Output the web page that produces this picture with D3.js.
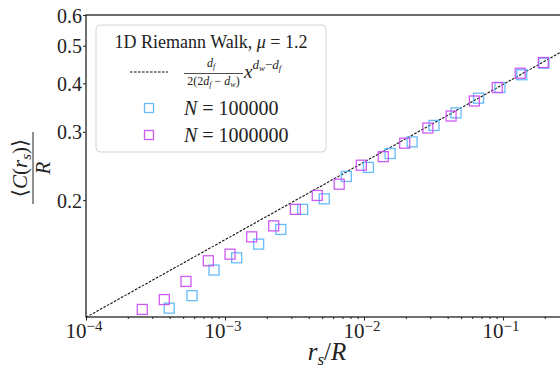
<!DOCTYPE html>
<html>
<head>
<meta charset="utf-8">
<title>Riemann walk</title>
<script src="https://cdnjs.cloudflare.com/ajax/libs/d3/7.8.5/d3.min.js"></script>
<style>
  body { margin: 0; background: #fff; }
</style>
</head>
<body>
<div id="chart"></div>
<script>
// data
const smallX = [3.97e-4, 5.79e-4, 8.34e-4, 1.213e-3, 1.746e-3, 2.52e-3, 3.62e-3, 5.18e-3, 7.46e-3,
                1.076e-2, 1.541e-2, 2.22e-2, 3.19e-2, 4.59e-2, 6.67e-2, 9.51e-2, 0.1365, 0.197];
const smallY = [0.1054, 0.1135, 0.1321, 0.1421, 0.1541, 0.1681, 0.1894, 0.2016, 0.2302,
                0.2429, 0.2638, 0.2826, 0.3116, 0.3356, 0.3663, 0.3902, 0.4209, 0.4507];
const bigX = [2.54e-4, 3.66e-4, 5.24e-4, 7.59e-4, 1.087e-3, 1.556e-3, 2.24e-3, 3.21e-3, 4.61e-3,
              6.63e-3, 9.57e-3, 1.377e-2, 1.963e-2, 2.88e-2, 4.23e-2, 6.22e-2, 9.10e-2, 0.133, 0.195];
const bigY = [0.1046, 0.1109, 0.1235, 0.1396, 0.1452, 0.1609, 0.1717, 0.1894, 0.2057,
              0.2199, 0.2461, 0.2589, 0.2804, 0.3068, 0.3295, 0.3602, 0.3902, 0.4247, 0.4526];
// dashed reference line, end points
const fitX = [1e-4, 0.3];
const fitY = [0.0998, 0.495];

const xMajor = [1e-4, 1e-3, 1e-2, 1e-1];
const xMajorExp = ["\u22124", "\u22123", "\u22122", "\u22121"];
const yTicks = [0.2, 0.3, 0.4, 0.5, 0.6];
const yTickLabels = ["0.2", "0.3", "0.4", "0.5", "0.6"];

const FONT = "'Liberation Serif', 'DejaVu Serif', 'Times New Roman', serif";
const W = 560, H = 370;
const m = {left: 86, top: 15, right: 566, bottom: 317};

const svg = d3.select("#chart").append("svg")
    .attr("width", W).attr("height", H)
    .style("display", "block");

const x = d3.scaleLog().domain([1e-4, 0.284]).range([m.left, m.right]);
const y = d3.scaleLog().domain([0.1, 0.6]).range([m.bottom, m.top]);

svg.append("defs").append("clipPath").attr("id", "clip")
  .append("rect").attr("x", m.left).attr("y", m.top)
  .attr("width", m.right - m.left).attr("height", m.bottom - m.top);

const plot = svg.append("g").attr("clip-path", "url(#clip)");

// dashed line
const line = d3.line().x(d => x(d[0])).y(d => y(d[1]));
plot.append("path")
    .datum(d3.zip(fitX, fitY))
    .attr("d", line)
    .attr("fill", "none")
    .attr("stroke", "#111")
    .attr("stroke-width", 1.1)
    .attr("stroke-dasharray", "2.6,1.4");

const blue = "#55b4f8", mag = "#c94af2";
const sq = 10;

function squares(xs, ys, col) {
  plot.append("g").selectAll("rect")
    .data(d3.zip(xs, ys))
    .enter().append("rect")
    .attr("x", d => x(d[0]) - sq / 2)
    .attr("y", d => y(d[1]) - sq / 2)
    .attr("width", sq).attr("height", sq)
    .attr("fill", "none")
    .attr("stroke", col)
    .attr("stroke-width", 1.3)
    .attr("opacity", 0.9);
}
squares(smallX, smallY, blue);
squares(bigX, bigY, mag);

// x axis
const minors = [];
[1e-4, 1e-3, 1e-2, 1e-1].forEach(b => { for (let k = 2; k < 10; k++) if (b * k < 0.284) minors.push(b * k); });

const xAxis = svg.append("g").attr("transform", "translate(0," + m.bottom + ")");
xAxis.call(d3.axisBottom(x).tickValues(xMajor).tickSize(3.5).tickFormat(""));
xAxis.append("g").call(d3.axisBottom(x).tickValues(minors).tickSize(2).tickFormat(""));
xAxis.selectAll(".domain").remove();
xAxis.selectAll("line").attr("stroke", "#222");

xAxis.selectAll(".xl")
  .data(xMajor)
  .enter().append("text")
  .attr("class", "xl")
  .attr("x", d => x(d) - 2)
  .attr("y", 21)
  .attr("text-anchor", "middle")
  .attr("font-size", 21)
  .each(function(d, i) {
    const t = d3.select(this);
    t.append("tspan").text("10");
    t.append("tspan").attr("font-size", 15).attr("dy", -7).text(xMajorExp[i]);
  });

// y axis
const yAxis = svg.append("g").attr("transform", "translate(" + m.left + ",0)");
yAxis.call(d3.axisLeft(y).tickValues(yTicks).tickSize(3).tickFormat((d, i) => yTickLabels[i]));
yAxis.selectAll(".domain").remove();
yAxis.selectAll("line").attr("stroke", "#222");
yAxis.selectAll("text")
  .attr("font-size", 20)
  .attr("x", -4)
  .attr("dy", "0.35em");

// spines
const sp = svg.append("g").attr("stroke", "#222").attr("stroke-width", 1.3).attr("fill", "none");
sp.append("rect").attr("x", m.left).attr("y", m.top).attr("width", m.right - m.left).attr("height", m.bottom - m.top);

// axis titles
const xl = svg.append("text")
  .attr("x", 327).attr("y", 360)
  .attr("text-anchor", "middle")
  .attr("font-size", 25);
xl.append("tspan").attr("font-style", "italic").text("r");
xl.append("tspan").attr("font-style", "italic").attr("font-size", 17).attr("dy", 5).text("s");
xl.append("tspan").attr("dy", -5).text("/");
xl.append("tspan").attr("font-style", "italic").text("R");

const yl = svg.append("g").attr("transform", "translate(33,168) rotate(-90)");
const num = yl.append("text").attr("x", 0).attr("y", -6).attr("text-anchor", "middle").attr("font-size", 21);
num.append("tspan").text("\u27E8");
num.append("tspan").attr("font-style", "italic").text("C");
num.append("tspan").text("(");
num.append("tspan").attr("font-style", "italic").text("r");
num.append("tspan").attr("font-style", "italic").attr("font-size", 15).attr("dy", 4).text("s");
num.append("tspan").attr("dy", -4).text(")\u27E9");
yl.append("line").attr("x1", -36).attr("x2", 36).attr("y1", 0).attr("y2", 0)
  .attr("stroke", "#222").attr("stroke-width", 1);
yl.append("text").attr("x", 0).attr("y", 17).attr("text-anchor", "middle")
  .attr("font-size", 21).attr("font-style", "italic").text("R");

// legend
const lg = svg.append("g");
lg.append("rect")
  .attr("x", 96).attr("y", 25).attr("width", 230).attr("height", 127)
  .attr("rx", 4)
  .attr("fill", "#fff").attr("fill-opacity", 0.85)
  .attr("stroke", "#d4d4d4").attr("stroke-width", 1);

const title = lg.append("text").attr("x", 211).attr("y", 48).attr("text-anchor", "middle").attr("font-size", 18);
title.append("tspan").text("1D Riemann Walk, ");
title.append("tspan").attr("font-style", "italic").text("\u03BC");
title.append("tspan").text(" = 1.2");

lg.append("line").attr("x1", 130).attr("x2", 168).attr("y1", 72).attr("y2", 72)
  .attr("stroke", "#111").attr("stroke-width", 1.1).attr("stroke-dasharray", "2.6,1.4");

const nm = lg.append("text").attr("x", 211).attr("y", 67).attr("text-anchor", "middle").attr("font-size", 12);
nm.append("tspan").attr("font-style", "italic").text("d");
nm.append("tspan").attr("font-style", "italic").attr("font-size", 8).attr("dy", 2).text("f");
lg.append("line").attr("x1", 184).attr("x2", 243).attr("y1", 73.5).attr("y2", 73.5)
  .attr("stroke", "#222").attr("stroke-width", 0.8);
const dn = lg.append("text").attr("x", 213.5).attr("y", 85).attr("text-anchor", "middle").attr("font-size", 12);
dn.append("tspan").text("2(2");
dn.append("tspan").attr("font-style", "italic").text("d");
dn.append("tspan").attr("font-style", "italic").attr("font-size", 8).attr("dy", 2).text("f");
dn.append("tspan").attr("dy", -2).text(" \u2212 ");
dn.append("tspan").attr("font-style", "italic").text("d");
dn.append("tspan").attr("font-style", "italic").attr("font-size", 8).attr("dy", 2).text("w");
dn.append("tspan").attr("dy", -2).text(")");
const xp = lg.append("text").attr("x", 244).attr("y", 78).attr("font-size", 19);
xp.append("tspan").attr("font-style", "italic").text("x");
xp.append("tspan").attr("font-style", "italic").attr("font-size", 13).attr("dy", -9).text("d");
xp.append("tspan").attr("font-style", "italic").attr("font-size", 9).attr("dy", 2).text("w");
xp.append("tspan").attr("font-size", 13).attr("dy", -2).text("\u2212");
xp.append("tspan").attr("font-style", "italic").attr("font-size", 13).text("d");
xp.append("tspan").attr("font-style", "italic").attr("font-size", 9).attr("dy", 2).text("f");

const entries = [["100000", blue, 108, 115], ["1000000", mag, 135, 142]];
entries.forEach(e => {
  lg.append("rect").attr("x", 149 - 4.5).attr("y", e[2] - 4.5).attr("width", 9).attr("height", 9)
    .attr("fill", "none").attr("stroke", e[1]).attr("stroke-width", 1.3).attr("opacity", 0.9);
  const t = lg.append("text").attr("x", 184).attr("y", e[3]).attr("font-size", 20);
  t.append("tspan").attr("font-style", "italic").text("N");
  t.append("tspan").text(" = " + e[0]);
});

// one font for every label
svg.selectAll("text").style("font-family", FONT).attr("fill", "#222");
</script>
</body>
</html>
